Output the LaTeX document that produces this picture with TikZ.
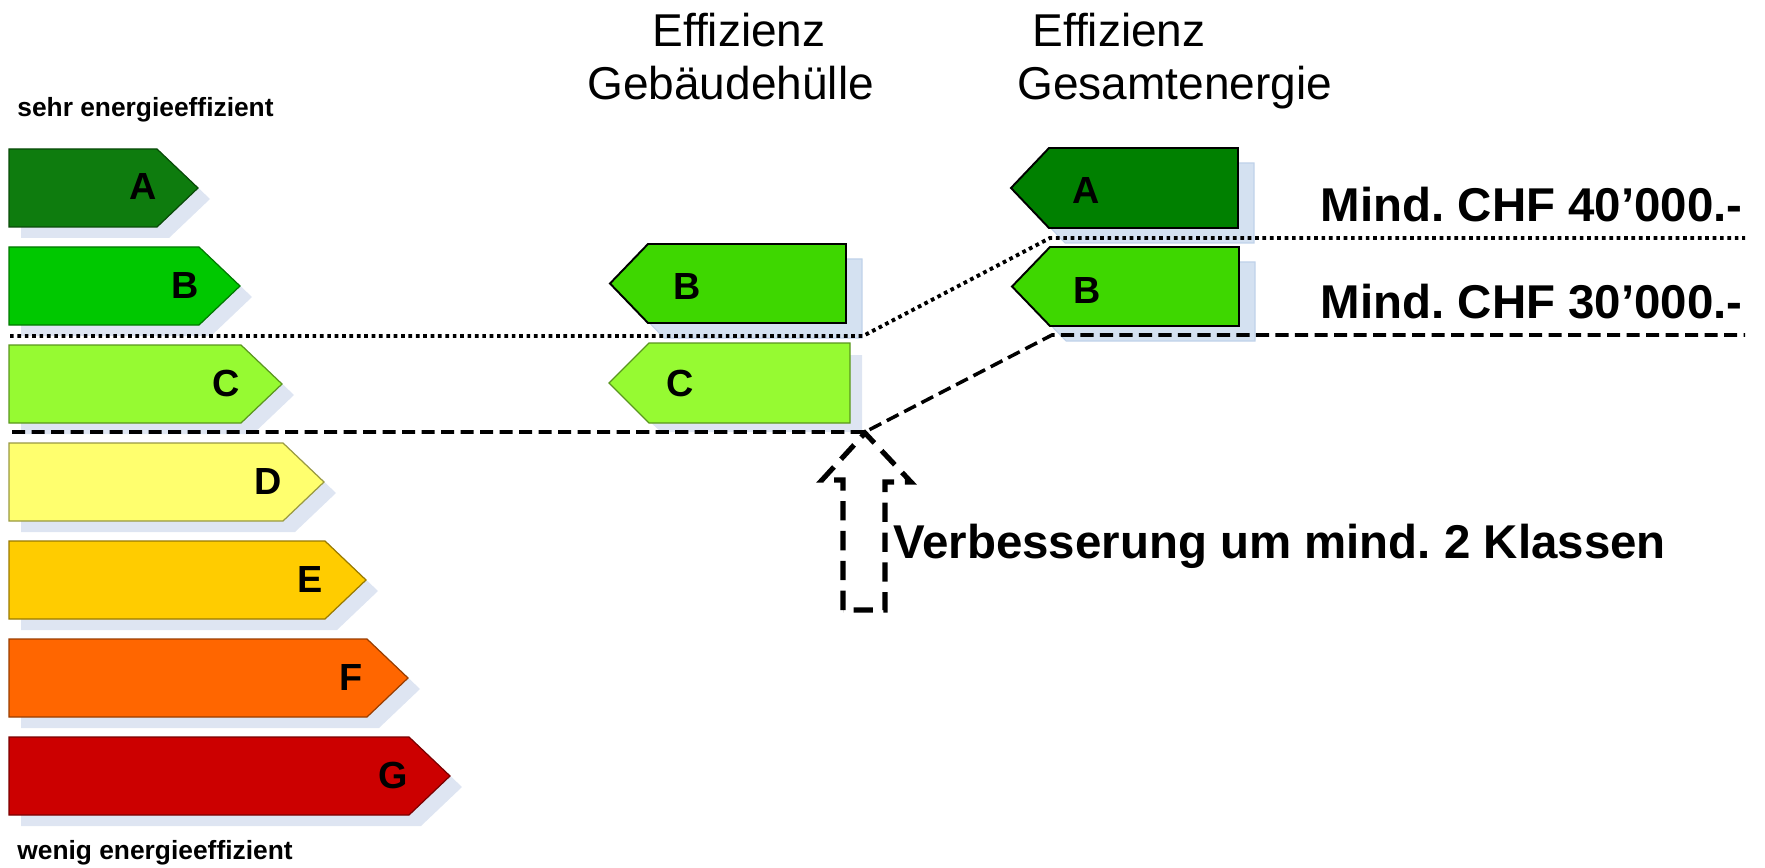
\documentclass[tikz,border=0pt]{standalone}
\usepackage{fontspec}
\setmainfont{Liberation Sans}
\frenchspacing
\definecolor{cA}{RGB}{14,124,14}
\definecolor{cB}{RGB}{0,200,0}
\definecolor{cC}{RGB}{150,250,50}
\definecolor{cD}{RGB}{255,255,110}
\definecolor{cE}{RGB}{255,204,0}
\definecolor{cF}{RGB}{255,102,0}
\definecolor{cG}{RGB}{204,0,0}
\definecolor{nA}{RGB}{0,128,0}
\definecolor{nB}{RGB}{62,215,0}
\definecolor{shadowL}{RGB}{222,229,242}
\definecolor{shadowR}{RGB}{212,225,241}
\definecolor{shadowRb}{RGB}{192,210,234}
\begin{document}
\begin{tikzpicture}[x=0.02cm,y=-0.02cm,
  lbl/.style={inner sep=0pt, font=\fontsize{21.5}{24}\selectfont\bfseries},
  small/.style={inner sep=0pt, font=\fontsize{15}{18}\selectfont\bfseries},
  title/.style={inner sep=0pt, font=\fontsize{26.2}{30}\selectfont},
  big/.style={inner sep=0pt, font=\fontsize{27}{31}\selectfont\bfseries},
  lshadow/.style={fill=shadowL},
  rshadow/.style={fill=shadowR, draw=shadowRb, line width=0.6pt},
  rarrow/.style={draw=black, line width=1.1pt, line join=miter},
  dotline/.style={line width=2.2pt, dash pattern=on 2.1pt off 2.1pt},
  dashline/.style={line width=2pt, dash pattern=on 7.5pt off 3.6pt},
  bigdash/.style={line width=2.9pt, dash pattern=on 11pt off 6pt}]
\useasboundingbox (0,0) rectangle (1765,868);

% ---- left scale ----
\node[small, anchor=base west] (top) at (17,117) {sehr energieeffizient};
\node[small, anchor=base west] (bottom) at (17,859) {wenig energieeffizient};
\foreach \i/\L in {0/A,1/B,2/C,3/D,4/E,5/F,6/G} {
  \pgfmathsetmacro\t{149+98*\i}
  \pgfmathsetmacro\b{\t+78}
  \pgfmathsetmacro\e{157+42*\i}
  \pgfmathsetmacro\p{\e+41}
  \pgfmathsetmacro\m{\t+39}
  \fill[lshadow] (21,\t+11) -- (\e+12,\t+11) -- (\p+12,\m+11) -- (\e+12,\b+11) -- (21,\b+11) -- cycle;
  \draw[draw=c\L!60!black, fill=c\L, line width=0.7pt] (9,\t) -- (\e,\t) -- (\p,\m) -- (\e,\b) -- (9,\b) -- cycle;
  \node[lbl, anchor=base] (L\L) at ({143+41.7*\i},{\t+51}) {\L};
}

% ---- titles ----
\node[title, anchor=base west] (t1a) at (652,47) {Effizienz};
\node[title, anchor=base west] (t1b) at (587,100) {Gebäudehülle};
\node[title, anchor=base west] (t2a) at (1032,47) {Effizienz};
\node[title, anchor=base west] (t2b) at (1017,100) {Gesamtenergie};

% ---- middle column ----
\fill[rshadow] (862,259) -- (664,259) -- (626,298.5) -- (664,338) -- (862,338) -- cycle;
\draw[rarrow, fill=nB] (846,244) -- (648,244) -- (610,283.5) -- (648,323) -- (846,323) -- cycle;
\node[lbl, anchor=base] (MB) at (687,299) {B};
\fill[lshadow] (862,355) -- (661,355) -- (621,395) -- (661,432) -- (862,432) -- cycle;
\draw[draw=cC!60!black, fill=cC, line width=0.7pt] (850,343) -- (649,343) -- (609,383) -- (649,423) -- (850,423) -- cycle;
\node[lbl, anchor=base] (MC) at (680,396) {C};

% ---- right column ----
\fill[rshadow] (1254,163) -- (1065,163) -- (1027,203) -- (1065,243) -- (1254,243) -- cycle;
\draw[rarrow, fill=nA] (1238,148) -- (1049,148) -- (1011,188) -- (1049,228) -- (1238,228) -- cycle;
\node[lbl, anchor=base] (RA) at (1086,204) {A};
\fill[rshadow] (1255,262) -- (1066,262) -- (1028,301.5) -- (1066,341) -- (1255,341) -- cycle;
\draw[rarrow, fill=nB] (1239,247) -- (1050,247) -- (1012,286.5) -- (1050,326) -- (1239,326) -- cycle;
\node[lbl, anchor=base] (RB) at (1087,303) {B};

% ---- threshold lines ----
\coordinate (dotL) at (10,336);
\coordinate (dotM) at (863,336);
\coordinate (dotR) at (1050,238);
\coordinate (dotE) at (1745,238);
\draw[dotline] (dotL) -- (dotM) -- (dotR) -- (dotE);
\coordinate (dashL) at (12,432);
\coordinate (dashM) at (865,432);
\coordinate (dashR) at (1052,335);
\coordinate (dashE) at (1745,335);
\draw[dashline] (dashL) -- (dashM) -- (dashR) -- (dashE);

% ---- costs ----
\node[big, anchor=base east] (cost40) at (1743,222) {Mind. CHF 40’000.-};
\node[big, anchor=base east] (cost30) at (1743,318) {Mind. CHF 30’000.-};

% ---- improvement arrow ----
\draw[bigdash, line join=miter] (843,610) -- (843,480) -- (822,480) -- (865,433) -- (911,482) -- (885,482) -- (885,610) -- cycle;
\node[big, anchor=base west] (improve) at (893,558) {Verbesserung um mind. 2 Klassen};
\end{tikzpicture}
\end{document}
